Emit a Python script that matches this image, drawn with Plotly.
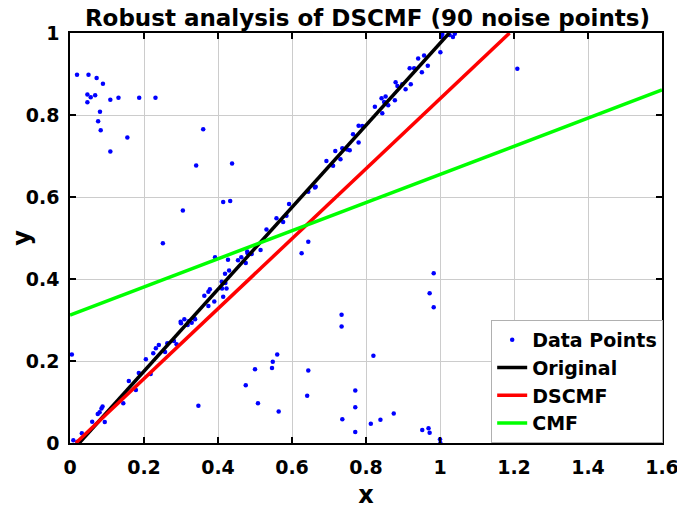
import plotly.graph_objects as go

# Data points (x, y)
pts_x = [
    0.019, 0.050, 0.072, 0.089, 0.047, 0.056, 0.068, 0.047, 0.109, 0.131, 0.187, 0.231,
    0.081, 0.076, 0.083, 0.155, 0.109, 0.360, 0.341, 0.438, 0.305, 0.414, 0.433, 0.251,
    0.005, 0.347, 0.475, 0.500, 0.508, 1.209, 0.644, 0.626, 0.734, 0.983, 0.972, 0.983,
    0.734, 0.560, 0.548, 0.546, 0.564, 0.644, 0.641, 0.820, 0.771, 0.771, 0.736, 0.771,
    0.813, 0.839, 0.875, 0.952, 0.969, 0.972, 1.000, 1.001,
    0.009, 0.032, 0.020, 0.025, 0.060, 0.075, 0.088, 0.094, 0.080, 0.085,
    0.144, 0.159, 0.178, 0.186, 0.218, 0.205, 0.225, 0.232, 0.240, 0.257, 0.263, 0.281,
    0.288, 0.299, 0.309, 0.318, 0.329, 0.336, 0.300, 0.321, 0.338,
    0.363, 0.374, 0.378, 0.390, 0.374, 0.414, 0.411, 0.423, 0.410, 0.420, 0.419, 0.430,
    0.392, 0.427, 0.454, 0.463, 0.475, 0.480, 0.491, 0.479, 0.515, 0.531, 0.558, 0.576,
    0.585, 0.592, 0.644, 0.662, 0.664,
    0.693, 0.711, 0.717, 0.731, 0.736, 0.749, 0.756, 0.765, 0.780, 0.780, 0.790, 0.824,
    0.842, 0.844, 0.853, 0.849, 0.860, 0.878, 0.880, 0.885, 0.898, 0.907, 0.921, 0.918,
    0.930, 0.941, 0.951, 0.957, 0.967, 1.001, 1.004, 1.006, 1.026, 1.035, 1.040,
]
pts_y = [
    0.898, 0.898, 0.890, 0.876, 0.850, 0.843, 0.848, 0.831, 0.837, 0.842, 0.842, 0.842,
    0.808, 0.785, 0.763, 0.745, 0.711, 0.765, 0.677, 0.682, 0.567, 0.588, 0.590, 0.487,
    0.216, 0.091, 0.141, 0.180, 0.097, 0.913, 0.491, 0.463, 0.313, 0.414, 0.365, 0.331,
    0.284, 0.216, 0.198, 0.183, 0.077, 0.177, 0.115, 0.213, 0.128, 0.087, 0.058, 0.027,
    0.047, 0.057, 0.072, 0.032, 0.036, 0.025, 0.009, 0.000,
    0.007, 0.024, 0.003, 0.000, 0.052, 0.071, 0.089, 0.051, 0.075, 0.084,
    0.097, 0.151, 0.129, 0.171, 0.168, 0.204, 0.219, 0.231, 0.239, 0.222, 0.243, 0.249,
    0.241, 0.296, 0.302, 0.288, 0.293, 0.304, 0.292, 0.297, 0.302,
    0.359, 0.369, 0.375, 0.345, 0.334, 0.357, 0.377, 0.377, 0.393, 0.390, 0.413, 0.421,
    0.453, 0.447, 0.446, 0.453, 0.439, 0.463, 0.461, 0.467, 0.471, 0.521, 0.548, 0.539,
    0.554, 0.583, 0.613, 0.623, 0.625,
    0.688, 0.676, 0.712, 0.692, 0.719, 0.716, 0.714, 0.753, 0.733, 0.774, 0.773, 0.820,
    0.841, 0.804, 0.845, 0.832, 0.824, 0.836, 0.880, 0.871, 0.875, 0.863, 0.875, 0.914,
    0.914, 0.938, 0.904, 0.945, 0.920, 0.953, 0.991, 0.997, 0.995, 0.990, 0.998,
]

# Fitted lines (endpoints)
original_x = [0.025, 1.025]
original_y = [0.0, 1.0]
dscmf_x = [0.016, 1.188]
dscmf_y = [0.0, 1.0]
cmf_x = [0.0, 1.6]
cmf_y = [0.312, 0.861]

tick_x = [0, 0.2, 0.4, 0.6, 0.8, 1, 1.2, 1.4, 1.6]
tick_x_text = ["0", "0.2", "0.4", "0.6", "0.8", "1", "1.2", "1.4", "1.6"]
tick_y = [0, 0.2, 0.4, 0.6, 0.8, 1]
tick_y_text = ["0", "0.2", "0.4", "0.6", "0.8", "1"]

FONT = "DejaVu Sans"

fig = go.Figure()
fig.add_trace(go.Scatter(x=pts_x, y=pts_y, mode="markers", name="<b>Data Points</b>",
                         marker=dict(color="#0000ff", size=4.5)))
fig.add_trace(go.Scatter(x=original_x, y=original_y, mode="lines", name="<b>Original</b>",
                         line=dict(color="#000000", width=3.5)))
fig.add_trace(go.Scatter(x=dscmf_x, y=dscmf_y, mode="lines", name="<b>DSCMF</b>",
                         line=dict(color="#ff0000", width=3.5)))
fig.add_trace(go.Scatter(x=cmf_x, y=cmf_y, mode="lines", name="<b>CMF</b>",
                         line=dict(color="#00ff00", width=3.5)))

axis_common = dict(
    showgrid=True, gridcolor="#cccccc", gridwidth=1,
    showline=True, linecolor="#000000", linewidth=1.5, mirror="ticks",
    ticks="inside", ticklen=6, tickwidth=1.5, tickcolor="#000000",
    zeroline=False, automargin=False,
    tickfont=dict(family=FONT, size=19, color="#000000", weight="bold"),
)

# page body has an 8px margin, so the figure is 8px smaller and margins shifted
fig.update_layout(
    width=677, height=501,
    margin=dict(l=62, r=23, t=25, b=66, autoexpand=False),
    paper_bgcolor="#ffffff", plot_bgcolor="#ffffff",
    title=dict(text="<b>Robust analysis of DSCMF (90 noise points)</b>",
               x=0.531, xanchor="center", y=0.996, yanchor="top", automargin=False,
               pad=dict(t=0, b=0),
               font=dict(family=FONT, size=23, color="#000000")),
    xaxis=dict(range=[0, 1.6], tickvals=tick_x, ticktext=tick_x_text, ticklabelstandoff=6,
               title=dict(text="<b>x</b>", font=dict(family=FONT, size=24, color="#000000"), standoff=11),
               **axis_common),
    yaxis=dict(range=[0, 1], tickvals=tick_y, ticktext=tick_y_text, ticklabelstandoff=5,
               title=dict(text="<b>y</b>", font=dict(family=FONT, size=24, color="#000000"), standoff=7),
               **axis_common),
    showlegend=True,
    legend=dict(x=1.002, xanchor="right", y=0, yanchor="bottom",
                bgcolor="#ffffff", bordercolor="#b0b0b0", borderwidth=1,
                font=dict(family=FONT, size=19, color="#000000"),
                itemwidth=30, tracegroupgap=0),
)

fig.write_html("out.html")
